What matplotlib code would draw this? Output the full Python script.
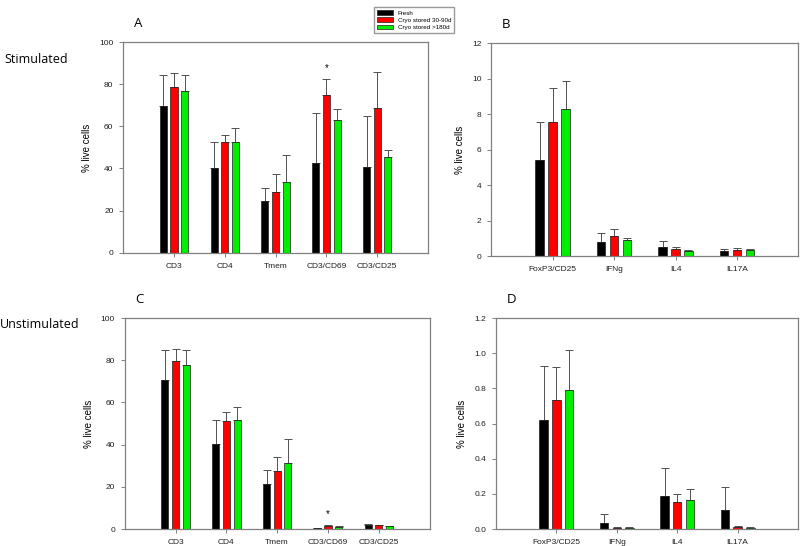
import numpy as np
import matplotlib.pyplot as plt

plt.rcParams['font.family'] = ['Liberation Sans', 'DejaVu Sans']

series = ["Fresh", "Cryo stored 30-90d", "Cryo stored >180d"]
colors = ["#000000", "#ff0000", "#00ee00"]

cats_ac = ["CD3", "CD4", "Tmem", "CD3/CD69", "CD3/CD25"]
cats_bd = ["FoxP3/CD25", "IFNg", "IL4", "IL17A"]

# panel A: stimulated, surface markers
a_mean = [[69.5, 40.0, 24.5, 42.6, 40.7],
          [78.5, 52.4, 29.0, 75.0, 68.7],
          [77.0, 52.6, 33.6, 63.0, 45.6]]
a_err = [[15.0, 12.4, 6.1, 23.7, 24.3],
         [7.0, 3.6, 8.6, 7.6, 17.1],
         [7.5, 6.4, 13.0, 5.4, 3.4]]

# panel B: stimulated, cytokines
b_mean = [[5.40, 0.79, 0.51, 0.26],
          [7.53, 1.15, 0.38, 0.32],
          [8.29, 0.89, 0.28, 0.32]]
b_err = [[2.13, 0.53, 0.34, 0.15],
         [1.94, 0.38, 0.11, 0.15],
         [1.60, 0.13, 0.04, 0.06]]

# panel C: unstimulated, surface markers
c_mean = [[70.7, 40.3, 21.2, 0.3, 2.0],
          [79.7, 51.4, 27.5, 1.3, 1.7],
          [77.8, 51.9, 31.3, 1.0, 1.4]]
c_err = [[14.3, 11.6, 7.0, 0.0, 0.5],
         [5.7, 4.0, 6.5, 0.6, 0.2],
         [7.2, 5.9, 11.4, 0.6, 0.2]]

# panel D: unstimulated, cytokines
d_mean = [[0.619, 0.032, 0.186, 0.108],
          [0.733, 0.008, 0.152, 0.013],
          [0.788, 0.008, 0.165, 0.008]]
d_err = [[0.308, 0.052, 0.160, 0.131],
         [0.188, 0.003, 0.045, 0.002],
         [0.230, 0.003, 0.063, 0.001]]

fig = plt.figure(figsize=(8, 5.46), dpi=100)

panels = [
    ("A", [0.154, 0.537, 0.381, 0.386], cats_ac, a_mean, a_err, np.arange(0, 101, 20), [0, 100], "{:.0f}"),
    ("B", [0.614, 0.531, 0.384, 0.390], cats_bd, b_mean, b_err, np.arange(0, 13, 2), [0, 12], "{:.0f}"),
    ("C", [0.156, 0.031, 0.381, 0.3865], cats_ac, c_mean, c_err, np.arange(0, 101, 20), [0, 100], "{:.0f}"),
    ("D", [0.620, 0.031, 0.3775, 0.3865], cats_bd, d_mean, d_err, np.arange(0, 1.21, 0.2), [0, 1.2], "{:.1f}"),
]

axes = {}
for letter, rect, cats, means, errs, yt, ylim, fmt in panels:
    ax = fig.add_axes(rect)
    axes[letter] = ax
    x = np.arange(1, len(cats) + 1)
    for i in range(3):
        ax.bar(x + (i - 1) * 0.21, means[i], width=0.14, color=colors[i],
               edgecolor="#202020", linewidth=0.5, label=series[i], zorder=2)
        ax.errorbar(x + (i - 1) * 0.21, means[i], yerr=[np.zeros(len(cats)), errs[i]],
                    fmt="none", ecolor="#505050", elinewidth=0.7, capsize=3,
                    capthick=0.7, zorder=1)
    ax.set_xlim(0, len(cats) + 1)
    ax.set_ylim(*ylim)
    ax.set_xticks(x)
    ax.set_xticklabels(cats, fontsize=6)
    ax.set_yticks(yt)
    ax.set_yticklabels([fmt.format(v) for v in yt], fontsize=6)
    ax.set_ylabel("% live cells", fontsize=7, labelpad=5)
    for s in ax.spines.values():
        s.set_color("#808080")
        s.set_linewidth(0.9)
    ax.tick_params(axis="both", colors="#808080", labelcolor="#202020",
                   length=3, width=0.7, pad=4)
    ax.text(0.035, 1.07, letter, transform=ax.transAxes, fontsize=9.5,
            family=['Open Sans', 'DejaVu Sans'])

# significance markers
axes["A"].text(4.0, 86, "*", ha="center", fontsize=7)
axes["C"].text(4.0, 5.5, "*", ha="center", fontsize=7)

fig.text(0.006, 0.884, "Stimulated", fontsize=9, family=['Open Sans', 'DejaVu Sans'])
fig.text(0.0, 0.399, "Unstimulated", fontsize=9, family=['Open Sans', 'DejaVu Sans'])

handles, labels = axes["A"].get_legend_handles_labels()
fig.legend(handles, labels, loc="upper left", bbox_to_anchor=(0.464, 0.992),
           fontsize=4.5, frameon=True, fancybox=False, edgecolor="#808080",
           handlelength=2.5, handleheight=0.8, borderpad=0.45, labelspacing=0.25)

fig.savefig("out.png", dpi=100)
